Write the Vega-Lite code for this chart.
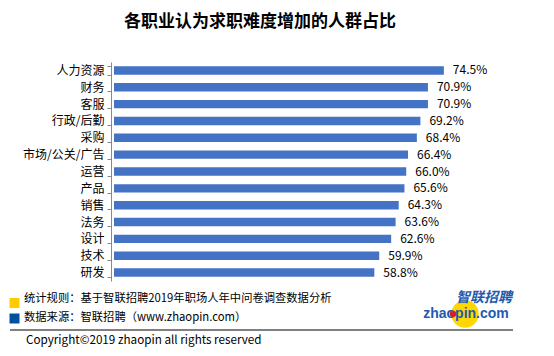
{
  "$schema": "https://vega.github.io/schema/vega-lite/v6.json",
  "width": 352,
  "height": 219,
  "autosize": {"type": "none"},
  "padding": {"left": 114, "top": 62, "right": 88, "bottom": 75},
  "background": "white",
  "config": {"view": {"stroke": null}, "font": "Noto Sans CJK SC"},
  "title": {
    "text": "各职业认为求职难度增加的人群占比",
    "fontSize": 17,
    "fontWeight": "bold",
    "font": "Noto Sans CJK SC",
    "color": "#000000",
    "anchor": "middle",
    "frame": "group",
    "dx": -30,
    "offset": 25
  },
  "datasets": {
    "bars": [
      {"job": "人力资源", "share": 0.745},
      {"job": "财务", "share": 0.709},
      {"job": "客服", "share": 0.709},
      {"job": "行政/后勤", "share": 0.692},
      {"job": "采购", "share": 0.684},
      {"job": "市场/公关/广告", "share": 0.664},
      {"job": "运营", "share": 0.660},
      {"job": "产品", "share": 0.656},
      {"job": "销售", "share": 0.643},
      {"job": "法务", "share": 0.636},
      {"job": "设计", "share": 0.626},
      {"job": "技术", "share": 0.599},
      {"job": "研发", "share": 0.588}
    ],
    "notes": [{"k": 1}]
  },
  "layer": [
    {
      "data": {"name": "bars"},
      "mark": {"type": "bar", "color": "#4472C4"},
      "encoding": {
        "y": {
          "field": "job", "type": "nominal", "sort": null,
          "scale": {"paddingInner": 0.5, "paddingOuter": 0.25},
          "axis": {
            "title": null, "offset": 3, "tickBand": "extent",
            "domainColor": "#888888", "tickColor": "#888888", "tickSize": 4,
            "labelFontSize": 12, "labelColor": "#000000", "labelPadding": 3,
            "labelFont": "Noto Sans CJK SC"
          }
        },
        "x": {
          "field": "share", "type": "quantitative",
          "scale": {"domain": [0, 0.795], "nice": false},
          "axis": null
        }
      }
    },
    {
      "data": {"name": "bars"},
      "mark": {"type": "text", "align": "left", "baseline": "middle", "dx": 9, "fontSize": 12, "color": "#000000", "font": "Noto Sans CJK SC"},
      "encoding": {
        "y": {"field": "job", "type": "nominal", "sort": null},
        "x": {"field": "share", "type": "quantitative"},
        "text": {"field": "share", "type": "quantitative", "format": ".1%"}
      }
    },
    {
      "data": {"name": "notes"},
      "mark": {"type": "square", "color": "#FFCC00", "opacity": 1, "size": 100},
      "encoding": {"x": {"value": -99.5}, "y": {"value": 241}}
    },
    {
      "data": {"name": "notes"},
      "mark": {"type": "square", "color": "#0050A0", "opacity": 1, "size": 100},
      "encoding": {"x": {"value": -99.5}, "y": {"value": 256.5}}
    },
    {
      "data": {"name": "notes"},
      "mark": {"type": "text", "align": "left", "baseline": "middle", "fontSize": 11.3, "color": "#000000"},
      "encoding": {"x": {"value": -90}, "y": {"value": 237}, "text": {"value": "统计规则：基于智联招聘2019年职场人年中问卷调查数据分析"}}
    },
    {
      "data": {"name": "notes"},
      "mark": {"type": "text", "align": "left", "baseline": "middle", "fontSize": 11.3, "color": "#000000"},
      "encoding": {"x": {"value": -90}, "y": {"value": 256}, "text": {"value": "数据来源：智联招聘（www.zhaopin.com）"}}
    },
    {
      "data": {"name": "notes"},
      "mark": {"type": "rule", "color": "#000000", "strokeWidth": 1},
      "encoding": {"x": {"value": -104}, "x2": {"value": 399}, "y": {"value": 268}}
    },
    {
      "data": {"name": "notes"},
      "mark": {"type": "text", "align": "left", "baseline": "middle", "fontSize": 11.7, "color": "#000000"},
      "encoding": {"x": {"value": -88}, "y": {"value": 278}, "text": {"value": "Copyright©2019 zhaopin all rights reserved"}}
    },
    {
      "data": {"name": "notes"},
      "mark": {"type": "circle", "color": "#FFD700", "opacity": 1, "size": 750},
      "encoding": {"x": {"value": 351}, "y": {"value": 252}}
    },
    {
      "data": {"name": "notes"},
      "mark": {"type": "text", "align": "center", "baseline": "middle", "fontSize": 14, "fontWeight": "bold", "fontStyle": "italic", "color": "#1E5BB0"},
      "encoding": {"x": {"value": 370}, "y": {"value": 236}, "text": {"value": "智联招聘"}}
    },
    {
      "data": {"name": "notes"},
      "mark": {"type": "text", "align": "center", "baseline": "middle", "fontSize": 14, "fontWeight": "bold", "color": "#1E5BB0", "font": "Liberation Sans"},
      "encoding": {"x": {"value": 352}, "y": {"value": 252}, "text": {"value": "zhaopin.com"}}
    },
    {
      "data": {"name": "notes"},
      "mark": {"type": "circle", "color": "#D0202A", "opacity": 1, "size": 40},
      "encoding": {"x": {"value": 339}, "y": {"value": 252}}
    }
  ]
}
